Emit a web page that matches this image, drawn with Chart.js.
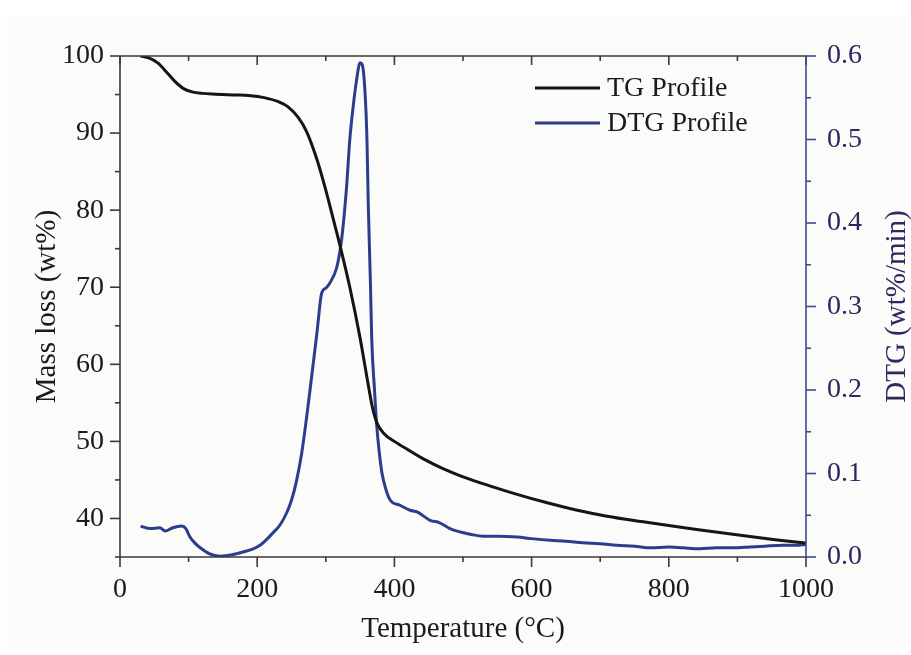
<!DOCTYPE html>
<html>
<head>
<meta charset="utf-8">
<script src="https://cdn.jsdelivr.net/npm/chart.js@4.4.1/dist/chart.umd.min.js"></script>
<style>
  html, body { margin: 0; padding: 0; background: #ffffff; }
  #wrap { position: absolute; left: 0; top: 0; width: 911px; height: 655px; }
</style>
</head>
<body>
<div id="wrap"><canvas id="c" width="911" height="655"></canvas></div>
<script>
// Thermogravimetric curve: temperature (°C) vs remaining mass (wt%)
const tgTemp = [30, 42, 55, 68, 80, 92, 105, 120, 140, 165, 190, 210, 230, 245, 260, 272, 287, 300, 311, 321, 335, 350, 360, 368, 375, 385, 400, 420, 445, 470, 500, 540, 580, 620, 665, 710, 760, 810, 860, 910, 955, 1000];
const tgMass = [100.0, 99.75, 99.1, 97.9, 96.7, 95.8, 95.35, 95.15, 95.05, 94.95, 94.85, 94.6, 94.1, 93.4, 92.0, 90.2, 86.6, 82.6, 78.8, 75.3, 70.0, 63.4, 58.3, 54.4, 52.3, 51.0, 50.0, 48.9, 47.6, 46.5, 45.4, 44.2, 43.1, 42.1, 41.1, 40.3, 39.6, 38.95, 38.35, 37.75, 37.25, 36.8];

// Derivative curve: temperature (°C) vs mass-loss rate (wt%/min)
const dtgTemp = [30, 44, 58, 66, 77, 90, 96, 102, 110, 117, 130, 146, 165, 179, 195, 204, 215, 223, 233, 243, 250, 257, 265, 277, 287, 294, 300, 305, 316, 323, 330, 335, 340, 345, 350, 353, 357, 360, 362, 365, 367, 371, 374, 378, 382, 388, 394, 408, 423, 433, 452, 466, 481, 496, 512, 529, 550, 579, 600, 627, 650, 675, 700, 724, 750, 773, 800, 821, 845, 870, 895, 918, 940, 967, 985, 1000];
const dtgRate = [0.037, 0.034, 0.035, 0.031, 0.035, 0.037, 0.034, 0.024, 0.016, 0.011, 0.004, 0.001, 0.003, 0.006, 0.010, 0.014, 0.022, 0.029, 0.038, 0.053, 0.068, 0.090, 0.125, 0.200, 0.268, 0.316, 0.322, 0.327, 0.347, 0.380, 0.440, 0.500, 0.540, 0.572, 0.592, 0.590, 0.559, 0.500, 0.419, 0.330, 0.260, 0.200, 0.160, 0.125, 0.100, 0.080, 0.068, 0.062, 0.056, 0.054, 0.044, 0.041, 0.034, 0.030, 0.027, 0.025, 0.025, 0.024, 0.022, 0.020, 0.019, 0.017, 0.016, 0.014, 0.013, 0.011, 0.012, 0.011, 0.010, 0.011, 0.011, 0.012, 0.013, 0.014, 0.014, 0.015];

// Axis tick values
const xTickLabels = [0, 200, 400, 600, 800, 1000];
const xMinorTicks = [100, 300, 500, 700, 900];
const massTickLabels = [40, 50, 60, 70, 80, 90, 100];
const massMinorTicks = [35, 45, 55, 65, 75, 85, 95];
const rateTickLabels = [0.0, 0.1, 0.2, 0.3, 0.4, 0.5, 0.6];
const rateMinorTicks = [0.05, 0.15, 0.25, 0.35, 0.45, 0.55];

const seriesNames = ['TG Profile', 'DTG Profile'];
const FONT = '"Liberation Serif", "Times New Roman", serif';
const TG_COLOR = '#151515';
const DTG_COLOR = '#2d3d8e';
const AXIS_COLOR = '#3a3a3a';
const RIGHT_AXIS_COLOR = '#3c4b95';
const RIGHT_TEXT_COLOR = '#2c2960';

const toPoints = (xs, ys) => xs.map((x, i) => ({ x: x, y: ys[i] }));

// Paper-coloured panel behind the figure
const panelPlugin = {
  id: 'panel',
  beforeDraw(chart) {
    const ctx = chart.ctx;
    ctx.save();
    ctx.fillStyle = '#fbfbfa';
    ctx.fillRect(7, 16, 898, 634);
    ctx.restore();
  }
};

// Axis frame with major/minor tick marks
const framePlugin = {
  id: 'frame',
  afterDraw(chart) {
    const { ctx, chartArea: a, scales } = chart;
    const sx = scales.x, sy = scales.y, sr = scales.y1;
    ctx.save();
    ctx.lineWidth = 1.6;
    ctx.lineCap = 'butt';

    const line = (x1, y1, x2, y2, color) => {
      ctx.strokeStyle = color;
      ctx.beginPath();
      ctx.moveTo(x1, y1);
      ctx.lineTo(x2, y2);
      ctx.stroke();
    };

    // frame
    line(a.left, a.top, a.right, a.top, AXIS_COLOR);
    line(a.left, a.bottom, a.right, a.bottom, AXIS_COLOR);
    line(a.left, a.top, a.left, a.bottom + 1, AXIS_COLOR);

    // bottom axis: outward ticks; top axis: inward ticks
    xTickLabels.forEach(v => {
      const px = sx.getPixelForValue(v);
      line(px, a.bottom, px, a.bottom + 10, AXIS_COLOR);
      line(px, a.top, px, a.top + 9, AXIS_COLOR);
    });
    xMinorTicks.forEach(v => {
      const px = sx.getPixelForValue(v);
      line(px, a.bottom, px, a.bottom + 5, AXIS_COLOR);
      line(px, a.top, px, a.top + 5, AXIS_COLOR);
    });

    // left axis
    massTickLabels.forEach(v => {
      const py = sy.getPixelForValue(v);
      line(a.left - 10, py, a.left, py, AXIS_COLOR);
    });
    massMinorTicks.forEach(v => {
      const py = sy.getPixelForValue(v);
      line(a.left - 5, py, a.left, py, AXIS_COLOR);
    });

    // right axis
    line(a.right, a.top, a.right, a.bottom + 1, RIGHT_AXIS_COLOR);
    rateTickLabels.forEach(v => {
      const py = sr.getPixelForValue(v);
      line(a.right, py, a.right + 10, py, RIGHT_AXIS_COLOR);
    });
    rateMinorTicks.forEach(v => {
      const py = sr.getPixelForValue(v);
      line(a.right, py, a.right + 5, py, RIGHT_AXIS_COLOR);
    });

    // right axis title, reading bottom to top
    ctx.fillStyle = RIGHT_TEXT_COLOR;
    ctx.font = '29px ' + FONT;
    ctx.textAlign = 'center';
    ctx.textBaseline = 'middle';
    ctx.translate(897, (a.top + a.bottom) / 2);
    ctx.rotate(-Math.PI / 2);
    ctx.fillText('DTG (wt%/min)', 0, 0);
    ctx.restore();
  }
};

// Legend placed inside the plot, upper right
const legendPlugin = {
  id: 'innerLegend',
  afterDatasetsDraw(chart) {
    const ctx = chart.ctx;
    ctx.save();
    ctx.font = '28px ' + FONT;
    ctx.textAlign = 'left';
    ctx.textBaseline = 'middle';
    const rows = [88, 123];
    chart.data.datasets.forEach((ds, i) => {
      const y = rows[i];
      ctx.strokeStyle = ds.borderColor;
      ctx.lineWidth = 3;
      ctx.beginPath();
      ctx.moveTo(535, y);
      ctx.lineTo(600, y);
      ctx.stroke();
      ctx.fillStyle = '#1a1a1a';
      ctx.fillText(ds.label, 607, y + 1);
    });
    ctx.restore();
  }
};

new Chart(document.getElementById('c'), {
  type: 'line',
  data: {
    datasets: [
      {
        label: seriesNames[0],
        data: toPoints(tgTemp, tgMass),
        yAxisID: 'y',
        borderColor: TG_COLOR,
        borderWidth: 3,
        pointRadius: 0,
        cubicInterpolationMode: 'monotone',
        fill: false
      },
      {
        label: seriesNames[1],
        data: toPoints(dtgTemp, dtgRate),
        yAxisID: 'y1',
        borderColor: DTG_COLOR,
        borderWidth: 3,
        pointRadius: 0,
        cubicInterpolationMode: 'monotone',
        fill: false
      }
    ]
  },
  options: {
    responsive: false,
    animation: false,
    devicePixelRatio: 1,
    layout: { padding: { top: 56, left: 0, right: 0, bottom: 0 } },
    plugins: { legend: { display: false }, tooltip: { enabled: false } },
    scales: {
      x: {
        type: 'linear',
        min: 0,
        max: 1000,
        afterFit: s => { s.height = 98; },
        afterBuildTicks: s => { s.ticks = xTickLabels.map(v => ({ value: v })); },
        grid: { display: false, drawTicks: false },
        border: { display: false },
        ticks: { color: '#1a1a1a', font: { family: FONT, size: 28 }, padding: 16, maxRotation: 0, callback: v => String(v) },
        title: { display: true, text: 'Temperature (°C)', color: '#1a1a1a', font: { family: FONT, size: 29 }, padding: { top: 0, bottom: 8 } }
      },
      y: {
        type: 'linear',
        position: 'left',
        min: 35,
        max: 100,
        afterFit: s => { s.width = 120; },
        afterBuildTicks: s => { s.ticks = massTickLabels.map(v => ({ value: v })); },
        grid: { display: false, drawTicks: false },
        border: { display: false },
        ticks: { color: '#1a1a1a', font: { family: FONT, size: 28 }, padding: 16 },
        title: { display: true, text: 'Mass loss (wt%)', color: '#1a1a1a', font: { family: FONT, size: 29 }, padding: { top: 30, bottom: 0 } }
      },
      y1: {
        type: 'linear',
        position: 'right',
        min: 0,
        max: 0.6,
        afterFit: s => { s.width = 105; },
        afterBuildTicks: s => { s.ticks = rateTickLabels.map(v => ({ value: v })); },
        grid: { display: false, drawTicks: false },
        border: { display: false },
        ticks: { color: RIGHT_TEXT_COLOR, font: { family: FONT, size: 28 }, padding: 21, callback: v => Number(v).toFixed(1) }
      }
    }
  },
  plugins: [panelPlugin, framePlugin, legendPlugin]
});
</script>
</body>
</html>
